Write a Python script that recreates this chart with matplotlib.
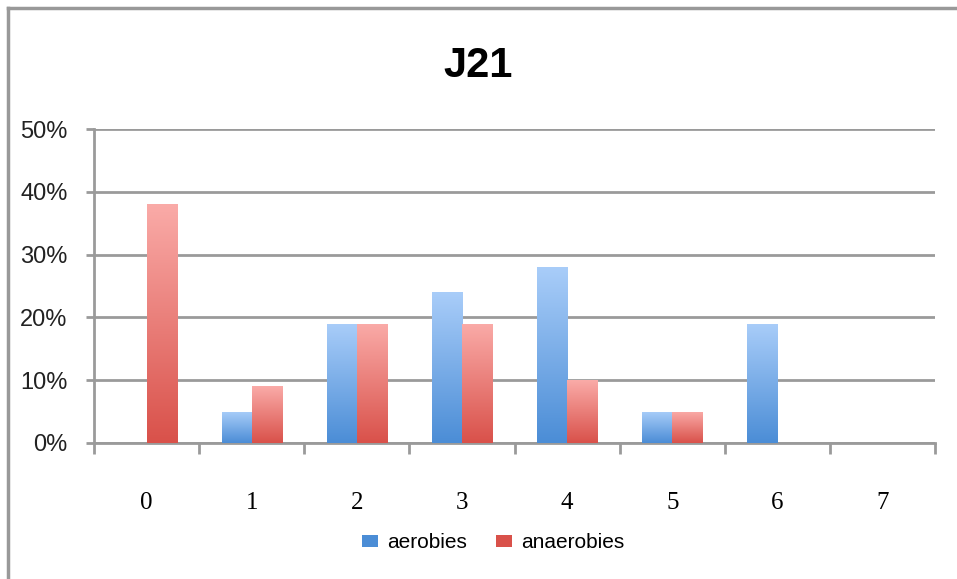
import matplotlib

matplotlib.use("Agg")
import matplotlib.pyplot as plt
import numpy as np
from matplotlib.colors import LinearSegmentedColormap
from matplotlib.lines import Line2D
from matplotlib.patches import Patch
from matplotlib.ticker import FixedLocator, NullFormatter

# data
categories = ["0", "1", "2", "3", "4", "5", "6", "7"]
aerobies = [0, 5, 19, 24, 28, 5, 19, 0]
anaerobies = [38, 9, 19, 19, 10, 5, 0, 0]
y_ticks = [0, 10, 20, 30, 40, 50]
y_labels = ["0%", "10%", "20%", "30%", "40%", "50%"]

BLUE_TOP, BLUE_BOT = "#a9cdf9", "#4b8dd6"
RED_TOP, RED_BOT = "#faaba8", "#d9514a"
GRID = "#9a9a9a"


def gradient_bars(ax, bars, top, bottom):
    cmap = LinearSegmentedColormap.from_list("g", [bottom, top])
    grad = np.linspace(0, 1, 256).reshape(-1, 1)
    for b in bars:
        if b.get_height() <= 0:
            continue
        x0, y0 = b.get_x(), b.get_y()
        im = ax.imshow(grad, cmap=cmap, origin="lower", aspect="auto",
                       extent=(x0, x0 + b.get_width(), y0, y0 + b.get_height()),
                       zorder=3)
        im.set_clip_path(b)


fig = plt.figure(figsize=(9.57, 5.79), dpi=100)
ax = fig.add_axes([0.0982, 0.2349, 0.879, 0.5423])

x = np.arange(len(categories))
w = 0.2857
b1 = ax.bar(x - w / 2, aerobies, w, color=BLUE_BOT, zorder=2, linewidth=0)
b2 = ax.bar(x + w / 2, anaerobies, w, color=RED_BOT, zorder=2, linewidth=0)
gradient_bars(ax, b1, BLUE_TOP, BLUE_BOT)
gradient_bars(ax, b2, RED_TOP, RED_BOT)

ax.set_xlim(-0.5, len(categories) - 0.5)
ax.set_ylim(0, 50)

# horizontal grid
ax.set_yticks(y_ticks)
ax.set_yticklabels(y_labels, fontsize=17, family="Liberation Sans", color="#222222")
ax.yaxis.grid(True, color=GRID, linewidth=2, zorder=1)
ax.set_axisbelow(True)
ax.tick_params(axis="y", length=6, width=2, color=GRID, pad=13)

# x ticks: marks at category boundaries, labels at centres
ax.xaxis.set_major_locator(FixedLocator(np.arange(-0.5, len(categories), 1.0)))
ax.xaxis.set_major_formatter(NullFormatter())
ax.xaxis.set_minor_locator(FixedLocator(x))
ax.set_xticklabels(categories, minor=True, fontsize=18, family="Liberation Serif")
ax.tick_params(axis="x", which="major", direction="out", length=8, width=2, color=GRID)
ax.tick_params(axis="x", which="minor", length=0, pad=35)

for s in ("top", "right"):
    ax.spines[s].set_visible(False)
for s in ("left", "bottom"):
    ax.spines[s].set_color(GRID)
    ax.spines[s].set_linewidth(2)

fig.text(0.5, 1 - 66 / 579, "J21", ha="center", va="center", fontsize=30,
         fontweight="bold", family="Liberation Sans")

handles = [
    Patch(facecolor=BLUE_BOT, label="aerobies"),
    Patch(facecolor=RED_BOT, label="anaerobies"),
]
fig.legend(handles=handles, loc="center", ncol=2, frameon=False,
           bbox_to_anchor=(0.515, 1 - 543 / 579),
           handlelength=0.8, handleheight=0.5, handletextpad=0.4,
           columnspacing=1.4, prop={"family": "Liberation Sans", "size": 15})

# outer frame (top and left edges only)
fig.add_artist(Line2D([8 / 957, 1], [1 - 8 / 579, 1 - 8 / 579],
                      transform=fig.transFigure, color="#999999", linewidth=2.5))
fig.add_artist(Line2D([8 / 957, 8 / 957], [0, 1 - 8 / 579],
                      transform=fig.transFigure, color="#999999", linewidth=2.5))

fig.savefig("out.png", dpi=100)
